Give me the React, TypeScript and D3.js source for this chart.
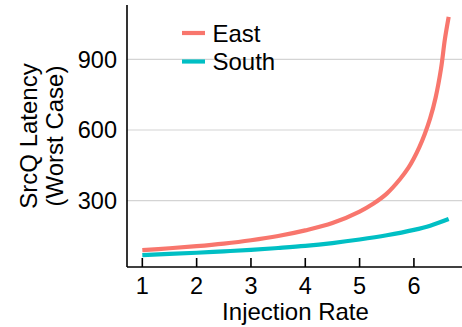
import React from "react";
import * as d3 from "d3";

const eastX = [1, 1.5, 2, 2.5, 3, 3.5, 4, 4.5, 5, 5.25, 5.5, 5.75, 5.9, 6, 6.1, 6.2, 6.3, 6.4, 6.5, 6.57, 6.64];
const eastY = [90, 98, 107, 118, 132, 150, 174, 205, 254, 287, 330, 393, 440, 480, 527, 583, 650, 738, 862, 985, 1080];
const southX = [1, 1.5, 2, 2.5, 3, 3.5, 4, 4.5, 5, 5.5, 6, 6.3, 6.64];
const southY = [69, 74, 79, 85, 91, 99, 108, 120, 135, 153, 176, 194, 222];
const xTicks = [1, 2, 3, 4, 5, 6];
const yTicks = [300, 600, 900];
const seriesNames = ["East", "South"];
const seriesColors = ["#F8766D", "#00BFC4"];

const W = 462;
const H = 327;
const FONT = "'Liberation Sans', Arial, Helvetica, sans-serif";

export default function App() {
  const allX = [...eastX, ...southX];
  const allY = [...eastY, ...southY];
  const [x0, x1] = d3.extent(allX) as [number, number];
  const [y0, y1] = d3.extent(allY) as [number, number];
  const xe = (x1 - x0) * 0.05;
  const ye = (y1 - y0) * 0.05;
  const left = 127;
  const right = 464;
  const top = 5;
  const bottom = 267;
  const x = d3.scaleLinear().domain([x0 - xe, x1 + xe]).range([left, right]);
  const y = d3.scaleLinear().domain([y0 - ye, y1 + ye]).range([bottom, top]);

  const line = d3
    .line<[number, number]>()
    .x((d) => x(d[0]))
    .y((d) => y(d[1]))
    .curve(d3.curveCatmullRom.alpha(0.5));

  const series = [
    eastX.map((v, i) => [v, eastY[i]] as [number, number]),
    southX.map((v, i) => [v, southY[i]] as [number, number]),
  ];

  return (
    <svg
      width={W}
      height={H}
      style={{ position: "absolute", left: 0, top: 0, background: "#fff" }}
      fontFamily={FONT}
    >
      {yTicks.map((t) => (
        <line key={t} x1={left} x2={W} y1={y(t)} y2={y(t)} stroke="#d4d4d4" strokeWidth={1.2} />
      ))}
      {series.map((s, i) => (
        <path key={i} d={line(s) || ""} fill="none" stroke={seriesColors[i]} strokeWidth={4.2} strokeLinecap="butt" />
      ))}
      <line x1={left} x2={left} y1={top} y2={bottom} stroke="#000" strokeWidth={1.6} />
      <line x1={left} x2={W} y1={bottom} y2={bottom} stroke="#000" strokeWidth={1.6} />
      {xTicks.map((t) => (
        <g key={t}>
          <line x1={x(t)} x2={x(t)} y1={bottom} y2={bottom - 9} stroke="#000" strokeWidth={1.6} />
          <text x={x(t)} y={294} textAnchor="middle" fontSize={23.5} fill="#000">
            {t}
          </text>
        </g>
      ))}
      {yTicks.map((t) => (
        <text key={t} x={117} y={y(t)} dy="0.36em" textAnchor="end" fontSize={23.5} fill="#000">
          {t}
        </text>
      ))}
      <text x={(left + 464) / 2} y={320} textAnchor="middle" fontSize={24} fill="#000">
        Injection Rate
      </text>
      <g transform={`translate(0, ${(top + bottom) / 2}) rotate(-90)`}>
        <text x={0} y={37} textAnchor="middle" fontSize={24} fill="#000">
          SrcQ Latency
        </text>
        <text x={0} y={63} textAnchor="middle" fontSize={24} fill="#000">
          (Worst Case)
        </text>
      </g>
      {seriesNames.map((n, i) => (
        <g key={n} transform={`translate(0, ${33 + i * 28.5})`}>
          <line x1={182} x2={205} y1={0} y2={0} stroke={seriesColors[i]} strokeWidth={4.2} />
          <text x={212.5} y={0} dy="0.36em" fontSize={24} fill="#000">
            {n}
          </text>
        </g>
      ))}
    </svg>
  );
}
